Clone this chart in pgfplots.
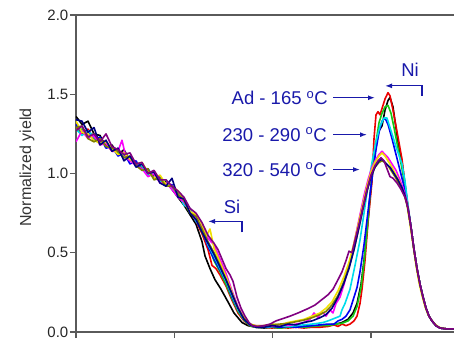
\documentclass[border=0pt]{standalone}
\usepackage{pgfplots}
\pgfplotsset{compat=1.18}
\usepackage{fontspec}
\setmainfont{Liberation Sans}
\usetikzlibrary{arrows.meta}
\definecolor{annot}{RGB}{25,25,170}
\definecolor{axisgray}{RGB}{90,90,90}
\definecolor{cBlack}{RGB}{0,0,0}
\definecolor{cRed}{RGB}{235,0,0}
\definecolor{cGreen}{RGB}{20,200,20}
\definecolor{cBlue}{RGB}{0,0,245}
\definecolor{cCyan}{RGB}{0,220,235}
\definecolor{cMagenta}{RGB}{250,0,250}
\definecolor{cYellow}{RGB}{240,225,0}
\definecolor{cDYellow}{RGB}{128,128,0}
\definecolor{cNavy}{RGB}{0,0,128}
\definecolor{cPurple}{RGB}{128,0,128}
\begin{document}
\begin{tikzpicture}
\begin{axis}[
  scale only axis, width=378pt, height=317pt,
  xmin=0, xmax=378, ymin=0, ymax=2,
  axis x line*=bottom, axis y line*=left,
  axis line style={draw=axisgray, line width=1.2pt, -},
  xtick={0,98.3,196.6,294.9}, xticklabels={},
  ytick={0,0.5,1,1.5,2},
  yticklabel style={/pgf/number format/.cd, fixed, fixed zerofill, precision=1},
  /pgf/number format/assume math mode=true,
  tick align=outside, major tick length=6pt,
  tick style={draw=axisgray, line width=1.2pt},
  ticklabel style={font=\fontsize{15}{18}\selectfont, text=black!85, inner sep=1.5pt},
  ylabel={Normalized yield},
  ylabel style={font=\fontsize{16}{19}\selectfont, text=black!80, at={(axis description cs:-0.1296,0.519)}, anchor=center},
  every axis plot/.append style={line width=1.6pt, line join=round},
  after end axis/.code={
    \draw[axisgray, line width=1.2pt] (rel axis cs:0,1) -- (rel axis cs:1,1);
    \coordinate (bl) at (rel axis cs:0,0);
    \coordinate (tr) at (rel axis cs:1,1);
  },
]
\addplot[cBlack] coordinates {(0,1.36)(6,1.31)(12,1.33)(18,1.25)(24,1.24)(30,1.17)(36,1.18)(42,1.12)(48,1.15)(54,1.08)(60,1.07)(66,1.05)(72,1.00)(78,1.00)(84,0.95)(90,0.95)(96,0.90)(102,0.85)(108,0.80)(114,0.74)(120,0.68)(126,0.57)(129,0.48)(134,0.40)(139,0.33)(145,0.27)(152,0.19)(158,0.12)(162,0.09)(166,0.06)(172,0.04)(180,0.03)(188,0.025)(196,0.03)(204,0.025)(212,0.035)(220,0.03)(228,0.04)(236,0.035)(244,0.04)(252,0.045)(260,0.05)(266,0.06)(272,0.08)(277,0.12)(281,0.18)(285,0.30)(288,0.45)(291,0.64)(294,0.85)(297,1.04)(300,1.18)(303,1.27)(306,1.30)(309,1.40)(312,1.46)(314,1.48)(317,1.42)(319,1.33)(322,1.20)(326,1.07)(329,0.93)(332,0.78)(335,0.66)(338,0.52)(341,0.40)(344,0.30)(347,0.22)(350,0.15)(353,0.10)(356,0.07)(360,0.04)(364,0.025)(370,0.02)(378,0.02)};
\addplot[cRed] coordinates {(0,1.29)(6,1.25)(12,1.28)(18,1.22)(24,1.22)(30,1.19)(36,1.14)(42,1.15)(48,1.10)(54,1.10)(60,1.05)(66,1.05)(72,1.00)(78,0.99)(84,0.97)(90,0.93)(96,0.92)(102,0.86)(108,0.81)(114,0.77)(120,0.70)(126,0.62)(132,0.52)(136,0.42)(140,0.40)(144,0.36)(150,0.29)(156,0.20)(162,0.12)(168,0.07)(174,0.04)(180,0.03)(188,0.03)(196,0.025)(204,0.03)(212,0.025)(220,0.03)(228,0.025)(236,0.03)(244,0.03)(252,0.035)(258,0.045)(262,0.035)(266,0.05)(270,0.04)(274,0.05)(278,0.07)(281,0.10)(284,0.18)(286,0.27)(289,0.45)(292,0.69)(294,0.82)(296,0.95)(298,1.22)(300,1.37)(302,1.39)(304,1.37)(306,1.41)(309,1.47)(312,1.51)(314,1.49)(317,1.40)(322,1.23)(326,1.09)(329,0.93)(332,0.79)(335,0.66)(338,0.52)(341,0.40)(344,0.30)(347,0.22)(350,0.15)(353,0.10)(356,0.07)(360,0.04)(364,0.025)(370,0.02)(378,0.02)};
\addplot[cGreen] coordinates {(0,1.27)(6,1.28)(12,1.24)(18,1.25)(24,1.19)(30,1.20)(36,1.15)(42,1.13)(48,1.12)(54,1.08)(60,1.07)(66,1.03)(72,1.02)(78,0.97)(84,0.97)(90,0.93)(96,0.92)(102,0.86)(108,0.82)(114,0.75)(120,0.72)(126,0.63)(132,0.55)(138,0.45)(144,0.38)(150,0.30)(156,0.21)(162,0.13)(168,0.075)(174,0.04)(180,0.03)(188,0.03)(196,0.03)(204,0.025)(212,0.03)(220,0.035)(228,0.03)(236,0.035)(244,0.04)(252,0.04)(260,0.05)(266,0.055)(272,0.07)(277,0.10)(281,0.16)(285,0.28)(288,0.44)(291,0.64)(294,0.86)(297,1.05)(300,1.20)(303,1.32)(306,1.38)(309,1.42)(312,1.43)(315,1.38)(318,1.29)(322,1.16)(326,1.03)(329,0.92)(332,0.78)(335,0.66)(338,0.52)(341,0.40)(344,0.30)(347,0.22)(350,0.15)(353,0.10)(356,0.07)(360,0.04)(364,0.025)(370,0.02)(378,0.02)};
\addplot[cBlue] coordinates {(0,1.31)(6,1.26)(12,1.27)(18,1.21)(24,1.23)(30,1.16)(36,1.17)(42,1.11)(48,1.13)(54,1.06)(60,1.08)(66,1.02)(72,1.03)(78,0.97)(84,0.98)(90,0.92)(96,0.93)(102,0.86)(108,0.81)(114,0.77)(120,0.70)(126,0.64)(132,0.54)(138,0.46)(144,0.39)(150,0.32)(156,0.22)(162,0.14)(168,0.08)(174,0.045)(180,0.035)(188,0.03)(196,0.035)(204,0.03)(212,0.035)(220,0.03)(228,0.035)(236,0.04)(244,0.045)(252,0.05)(258,0.05)(262,0.07)(266,0.08)(270,0.10)(274,0.14)(278,0.22)(281,0.28)(284,0.38)(288,0.55)(292,0.76)(296,0.97)(300,1.15)(303,1.26)(306,1.33)(309,1.35)(312,1.31)(316,1.22)(320,1.12)(324,1.02)(328,0.92)(331,0.82)(335,0.66)(338,0.52)(341,0.40)(344,0.30)(347,0.22)(350,0.15)(353,0.10)(356,0.07)(360,0.04)(364,0.025)(370,0.02)(378,0.02)};
\addplot[cCyan] coordinates {(0,1.28)(6,1.24)(12,1.27)(18,1.23)(24,1.20)(30,1.20)(36,1.15)(42,1.15)(48,1.10)(54,1.10)(60,1.05)(66,1.05)(72,0.99)(78,1.00)(84,0.95)(90,0.96)(96,0.90)(102,0.88)(108,0.80)(114,0.78)(120,0.70)(126,0.65)(132,0.55)(138,0.48)(144,0.40)(150,0.32)(156,0.23)(162,0.14)(168,0.08)(174,0.045)(180,0.03)(188,0.03)(196,0.035)(204,0.04)(212,0.035)(220,0.04)(228,0.045)(236,0.05)(242,0.055)(247,0.06)(252,0.07)(256,0.08)(260,0.09)(264,0.10)(266,0.14)(269,0.18)(274,0.27)(279,0.42)(284,0.58)(288,0.75)(292,0.92)(296,1.07)(300,1.20)(304,1.30)(308,1.35)(311,1.35)(314,1.29)(317,1.23)(321,1.15)(326,1.06)(329,0.95)(332,0.80)(335,0.66)(338,0.52)(341,0.40)(344,0.30)(347,0.22)(350,0.15)(353,0.10)(356,0.07)(360,0.04)(364,0.025)(370,0.02)(378,0.02)};
\addplot[cMagenta] coordinates {(0,1.20)(6,1.27)(12,1.22)(18,1.24)(24,1.18)(30,1.19)(36,1.14)(42,1.14)(46,1.21)(50,1.10)(54,1.08)(60,1.05)(66,1.03)(72,0.98)(78,1.00)(84,0.94)(90,0.94)(96,0.90)(102,0.85)(108,0.82)(114,0.76)(120,0.72)(126,0.66)(132,0.59)(138,0.55)(144,0.46)(150,0.37)(156,0.26)(162,0.16)(168,0.09)(174,0.05)(180,0.04)(188,0.04)(196,0.035)(204,0.045)(212,0.04)(220,0.05)(228,0.06)(234,0.08)(238,0.12)(242,0.09)(246,0.13)(250,0.10)(254,0.14)(257,0.12)(260,0.18)(264,0.22)(268,0.30)(272,0.40)(276,0.50)(280,0.62)(284,0.74)(288,0.86)(292,0.96)(296,1.04)(300,1.09)(303,1.12)(306,1.14)(309,1.12)(312,1.10)(316,1.06)(320,1.02)(324,0.96)(328,0.89)(331,0.82)(335,0.66)(338,0.52)(341,0.40)(344,0.30)(347,0.22)(350,0.15)(353,0.10)(356,0.07)(360,0.04)(364,0.025)(370,0.02)(378,0.02)};
\addplot[cYellow] coordinates {(0,1.33)(6,1.26)(12,1.25)(18,1.21)(24,1.19)(30,1.20)(36,1.16)(42,1.12)(48,1.13)(54,1.09)(60,1.06)(66,1.07)(72,1.01)(78,0.97)(84,0.99)(90,0.93)(96,0.92)(102,0.89)(108,0.84)(114,0.76)(120,0.74)(126,0.68)(130,0.60)(134,0.65)(138,0.53)(144,0.44)(150,0.35)(156,0.25)(162,0.15)(168,0.09)(174,0.05)(180,0.04)(188,0.04)(196,0.05)(204,0.045)(212,0.06)(220,0.07)(228,0.08)(236,0.10)(244,0.12)(250,0.15)(256,0.19)(262,0.26)(268,0.35)(273,0.44)(278,0.56)(283,0.70)(287,0.81)(291,0.92)(295,1.01)(299,1.07)(303,1.11)(306,1.13)(309,1.11)(312,1.08)(316,1.04)(320,0.99)(324,0.94)(328,0.87)(331,0.80)(334,0.68)(337,0.55)(340,0.42)(343,0.31)(346,0.23)(349,0.16)(352,0.11)(355,0.08)(359,0.05)(363,0.03)(370,0.02)(378,0.02)};
\addplot[cDYellow] coordinates {(0,1.29)(6,1.30)(12,1.22)(18,1.20)(24,1.22)(30,1.17)(36,1.16)(42,1.14)(48,1.10)(54,1.11)(60,1.05)(66,1.02)(72,1.03)(78,0.96)(84,0.97)(90,0.92)(96,0.92)(102,0.87)(108,0.83)(114,0.75)(120,0.73)(126,0.65)(132,0.57)(138,0.50)(144,0.42)(150,0.33)(156,0.24)(162,0.15)(168,0.085)(174,0.05)(180,0.035)(188,0.04)(196,0.045)(204,0.05)(212,0.055)(220,0.065)(228,0.075)(236,0.09)(244,0.11)(250,0.13)(256,0.17)(262,0.23)(268,0.32)(273,0.41)(278,0.52)(283,0.66)(287,0.78)(291,0.89)(295,0.98)(299,1.04)(303,1.07)(306,1.08)(309,1.07)(312,1.05)(316,1.01)(320,0.97)(324,0.92)(328,0.87)(331,0.81)(335,0.66)(338,0.52)(341,0.40)(344,0.30)(347,0.22)(350,0.15)(353,0.10)(356,0.07)(360,0.04)(364,0.025)(370,0.02)(378,0.02)};
\addplot[cNavy] coordinates {(0,1.34)(6,1.33)(12,1.26)(18,1.29)(24,1.18)(30,1.21)(36,1.14)(42,1.16)(48,1.08)(54,1.11)(60,1.04)(66,1.06)(72,1.00)(78,1.01)(84,0.94)(90,0.92)(96,0.97)(102,0.85)(108,0.84)(114,0.75)(120,0.71)(126,0.63)(132,0.56)(138,0.49)(144,0.41)(150,0.33)(156,0.24)(162,0.15)(168,0.08)(174,0.045)(180,0.03)(188,0.03)(196,0.04)(204,0.035)(212,0.05)(220,0.045)(228,0.06)(236,0.07)(244,0.09)(250,0.11)(256,0.15)(262,0.22)(268,0.31)(273,0.40)(278,0.52)(283,0.66)(287,0.78)(291,0.89)(295,0.98)(299,1.04)(303,1.08)(306,1.09)(309,1.07)(312,1.05)(314,1.04)(318,1.00)(322,0.96)(326,0.91)(329,0.86)(332,0.78)(335,0.66)(338,0.52)(341,0.40)(344,0.30)(347,0.22)(350,0.15)(353,0.10)(356,0.07)(360,0.04)(364,0.025)(370,0.02)(378,0.02)};
\addplot[cPurple] coordinates {(0,1.27)(6,1.30)(12,1.23)(18,1.25)(24,1.20)(30,1.25)(36,1.17)(42,1.15)(48,1.12)(54,1.13)(60,1.06)(66,1.07)(72,1.00)(78,1.02)(84,0.96)(90,0.96)(96,0.92)(102,0.89)(108,0.85)(114,0.78)(120,0.75)(126,0.69)(132,0.61)(138,0.56)(142,0.52)(146,0.46)(150,0.40)(154,0.36)(157,0.32)(159,0.27)(161,0.22)(165,0.15)(169,0.10)(173,0.06)(176,0.04)(182,0.035)(188,0.04)(194,0.05)(200,0.07)(207,0.085)(214,0.10)(222,0.12)(231,0.145)(239,0.17)(247,0.21)(252,0.235)(257,0.27)(262,0.33)(266,0.38)(270,0.45)(273,0.51)(276,0.50)(279,0.58)(283,0.68)(287,0.79)(291,0.90)(295,0.99)(299,1.05)(302,1.08)(305,1.10)(308,1.08)(311,1.03)(314,0.98)(317,0.97)(321,0.94)(325,0.90)(329,0.85)(332,0.78)(335,0.66)(338,0.52)(341,0.40)(344,0.30)(347,0.22)(350,0.15)(353,0.10)(356,0.07)(360,0.04)(364,0.025)(370,0.02)(378,0.02)};
% annotations
\node[annot, anchor=east, inner sep=0pt, font=\fontsize{18.5}{21}\selectfont] at (axis cs:252,1.478) {Ad - 165 \textsuperscript{o}C};
\node[annot, anchor=east, inner sep=0pt, font=\fontsize{18.5}{21}\selectfont] at (axis cs:251,1.245) {230 - 290 \textsuperscript{o}C};
\node[annot, anchor=east, inner sep=0pt, font=\fontsize{18.5}{21}\selectfont] at (axis cs:251,1.025) {320 - 540 \textsuperscript{o}C};
\draw[annot, line width=1.3pt, -{Latex[length=7pt,width=5pt]}] (axis cs:257,1.478) -- (axis cs:299,1.478);
\draw[annot, line width=1.3pt, -{Latex[length=7pt,width=5pt]}] (axis cs:257,1.245) -- (axis cs:291,1.245);
\draw[annot, line width=1.3pt, -{Latex[length=7pt,width=5pt]}] (axis cs:257,1.025) -- (axis cs:284,1.025);
\node[annot, inner sep=0pt, font=\fontsize{18.5}{21}\selectfont] at (axis cs:334,1.654) {Ni};
\draw[annot, line width=1.3pt, -{Latex[length=7pt,width=5pt]}] (axis cs:346,1.49) -- (axis cs:346,1.553) -- (axis cs:309,1.553);
\node[annot, inner sep=0pt, font=\fontsize{18.5}{21}\selectfont] at (axis cs:156,0.79) {Si};
\draw[annot, line width=1.3pt, -{Latex[length=7pt,width=5pt]}] (axis cs:166,0.629) -- (axis cs:166,0.698) -- (axis cs:132,0.698);
\end{axis}
\pgfresetboundingbox
\path ([xshift=-76pt,yshift=-8pt]bl) rectangle ([yshift=15pt]tr);
\end{tikzpicture}
\end{document}
